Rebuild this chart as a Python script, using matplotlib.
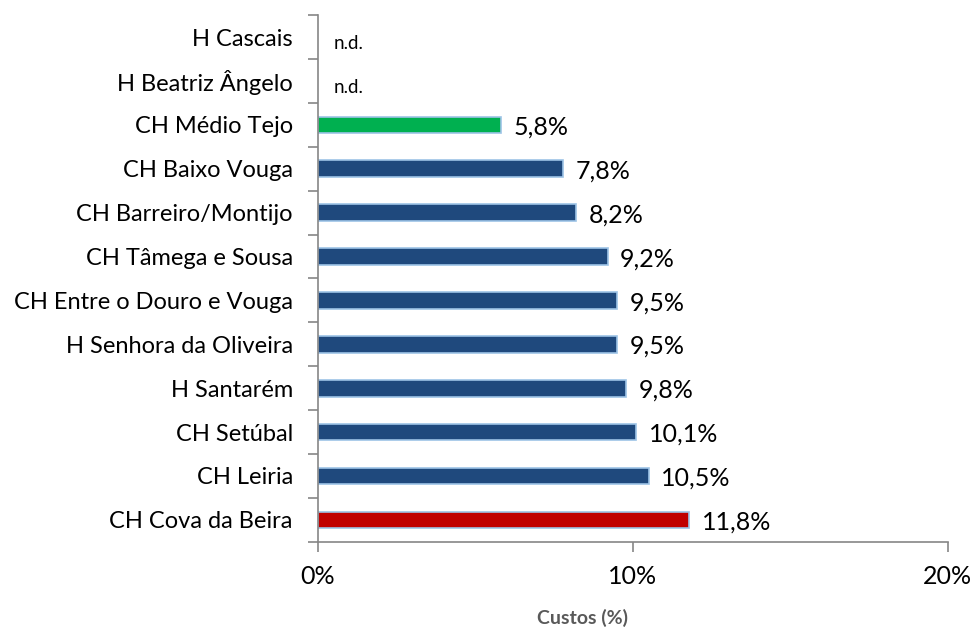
import matplotlib.pyplot as plt
import numpy as np

# bottom-to-top order, as drawn
hospitals = ["CH Cova da Beira", "CH Leiria", "CH Setúbal", "H Santarém",
             "H Senhora da Oliveira", "CH Entre o Douro e Vouga", "CH Tâmega e Sousa",
             "CH Barreiro/Montijo", "CH Baixo Vouga", "CH Médio Tejo",
             "H Beatriz Ângelo", "H Cascais"]
custos = [11.8, 10.5, 10.1, 9.8, 9.5, 9.5, 9.2, 8.2, 7.8, 5.8, None, None]
x_ticks = [0, 10, 20]

plt.rcParams['font.family'] = ['Lato', 'DejaVu Sans']

fig = plt.figure(figsize=(9.75, 6.3), dpi=100)
ax = fig.add_axes([0.326, 0.140, 0.646, 0.836])

y = np.arange(len(hospitals))
for i, val in enumerate(custos):
    if val is None:
        ax.text(0.5, i - 0.15, "n.d.", fontsize=13.5, va='center', ha='left')
        continue
    if i == 0:
        color = '#C00000'
    elif hospitals[i] == "CH Médio Tejo":
        color = '#00B050'
    else:
        color = '#1F497D'
    ax.barh(i, val, height=0.38, color=color, edgecolor='#9DC3E6', linewidth=1.2)
    ax.text(val + 0.4, i - 0.05, f"{val:.1f}%".replace('.', ','), fontsize=18,
            va='center', ha='left')

ax.set_xlim(0, 20)
ax.set_ylim(-0.5, len(hospitals) - 0.5)
ax.set_xticks(x_ticks)
ax.set_xticklabels([f"{t}%" for t in x_ticks], fontsize=18)
ax.set_yticks(y)
ax.set_yticklabels(hospitals, fontsize=17)
ax.set_yticks(np.arange(-0.5, len(hospitals), 1), minor=True)
ax.tick_params(axis='y', which='major', length=0, pad=18)
ax.tick_params(axis='y', which='minor', length=7, color='#868686', width=1.2)
ax.tick_params(axis='x', length=7, color='#868686', width=1.2, pad=10)

for side in ['top', 'right']:
    ax.spines[side].set_visible(False)
for side in ['left', 'bottom']:
    ax.spines[side].set_color('#868686')
    ax.spines[side].set_linewidth(1.2)

fig.text(0.597, 0.005, "Custos (%)", fontsize=14, fontweight='bold',
         color='#595959', ha='center', va='bottom')

plt.savefig("out.png", dpi=100)
